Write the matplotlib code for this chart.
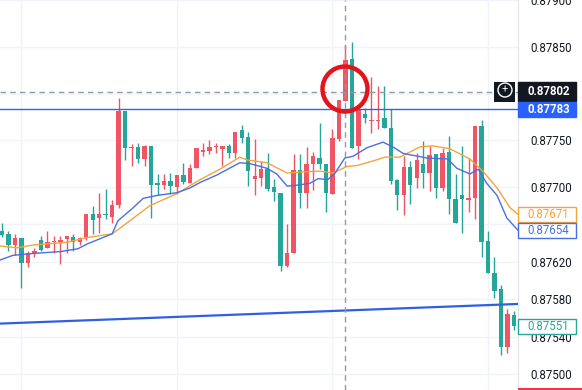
import matplotlib
matplotlib.use("Agg")
import matplotlib.pyplot as plt
from matplotlib.patches import Rectangle, Circle
from matplotlib.transforms import blended_transform_factory

plt.rcParams['font.family'] = ['Roboto', 'DejaVu Sans']

# OHLC (80 bars, left to right)
opens = [0.87653, 0.87650, 0.87638, 0.87645, 0.87619, 0.87629, 0.87643, 0.87635, 0.87641, 0.87641,
         0.87644, 0.87647, 0.87641, 0.87645, 0.87671, 0.87667, 0.87671, 0.87668, 0.87681, 0.87781,
         0.87742, 0.87743, 0.87730, 0.87744, 0.87704, 0.87702, 0.87706, 0.87700, 0.87713, 0.87704,
         0.87720, 0.87738, 0.87739, 0.87743, 0.87741, 0.87744, 0.87736, 0.87761, 0.87753, 0.87709,
         0.87710, 0.87719, 0.87700, 0.87694, 0.87616, 0.87629, 0.87718, 0.87694, 0.87725, 0.87731,
         0.87725, 0.87693, 0.87751, 0.87792, 0.87837, 0.87744, 0.87778, 0.87771, 0.87771, 0.87774,
         0.87763, 0.87708, 0.87692, 0.87721, 0.87710, 0.87725, 0.87715, 0.87735, 0.87699, 0.87738,
         0.87687, 0.87692, 0.87686, 0.87688, 0.87765, 0.87642, 0.87608, 0.87591, 0.87529, 0.87563]
highs = [0.87662, 0.87653, 0.87650, 0.87645, 0.87632, 0.87635, 0.87648, 0.87653, 0.87648, 0.87648,
         0.87648, 0.87650, 0.87647, 0.87671, 0.87680, 0.87694, 0.87698, 0.87686, 0.87795, 0.87781,
         0.87746, 0.87747, 0.87745, 0.87744, 0.87714, 0.87714, 0.87715, 0.87713, 0.87726, 0.87725,
         0.87742, 0.87747, 0.87750, 0.87747, 0.87744, 0.87746, 0.87759, 0.87766, 0.87759, 0.87751,
         0.87728, 0.87736, 0.87709, 0.87694, 0.87660, 0.87735, 0.87735, 0.87743, 0.87737, 0.87768,
         0.87725, 0.87762, 0.87793, 0.87852, 0.87855, 0.87783, 0.87784, 0.87818, 0.87808, 0.87808,
         0.87783, 0.87709, 0.87733, 0.87728, 0.87736, 0.87749, 0.87744, 0.87735, 0.87742, 0.87755,
         0.87714, 0.87744, 0.87731, 0.87765, 0.87772, 0.87653, 0.87625, 0.87595, 0.87570, 0.87568]
lows = [0.87647, 0.87632, 0.87627, 0.87592, 0.87615, 0.87625, 0.87632, 0.87635, 0.87630, 0.87618,
        0.87630, 0.87632, 0.87638, 0.87643, 0.87650, 0.87651, 0.87666, 0.87662, 0.87678, 0.87729,
        0.87723, 0.87726, 0.87722, 0.87667, 0.87692, 0.87698, 0.87693, 0.87693, 0.87703, 0.87704,
        0.87720, 0.87733, 0.87735, 0.87736, 0.87722, 0.87731, 0.87731, 0.87747, 0.87701, 0.87691,
        0.87701, 0.87696, 0.87685, 0.87610, 0.87614, 0.87629, 0.87678, 0.87678, 0.87697, 0.87719,
        0.87673, 0.87693, 0.87749, 0.87792, 0.87742, 0.87730, 0.87768, 0.87758, 0.87762, 0.87763,
        0.87703, 0.87675, 0.87670, 0.87682, 0.87699, 0.87699, 0.87696, 0.87688, 0.87696, 0.87671,
        0.87662, 0.87651, 0.87673, 0.87666, 0.87625, 0.87608, 0.87581, 0.87520, 0.87523, 0.87547]
closes = [0.87649, 0.87638, 0.87645, 0.87619, 0.87630, 0.87632, 0.87633, 0.87641, 0.87642, 0.87643,
          0.87648, 0.87641, 0.87646, 0.87671, 0.87665, 0.87671, 0.87670, 0.87681, 0.87781, 0.87742,
          0.87743, 0.87730, 0.87744, 0.87702, 0.87702, 0.87706, 0.87701, 0.87713, 0.87705, 0.87720,
          0.87742, 0.87739, 0.87743, 0.87744, 0.87744, 0.87736, 0.87759, 0.87752, 0.87717, 0.87712,
          0.87719, 0.87698, 0.87695, 0.87616, 0.87629, 0.87718, 0.87694, 0.87725, 0.87733, 0.87725,
          0.87694, 0.87752, 0.87793, 0.87836, 0.87742, 0.87783, 0.87774, 0.87772, 0.87772, 0.87763,
          0.87706, 0.87692, 0.87721, 0.87702, 0.87729, 0.87715, 0.87734, 0.87699, 0.87736, 0.87687,
          0.87662, 0.87687, 0.87688, 0.87765, 0.87641, 0.87608, 0.87589, 0.87529, 0.87564, 0.87551]

# moving averages, traced (bar position, price)
fast_x = [-0.3, 1.7, 4.8, 9.0, 11.7, 13.1, 17.0, 17.9, 20.1, 21.8, 23.9, 27.0, 29.0, 30.6, 33.2,
          36.7, 38.3, 40.9, 42.4, 44.0, 45.5, 47.5, 48.8, 50.3, 51.4, 52.9, 54.2, 56.3, 58.8, 60.3,
          61.9, 65.6, 68.8, 70.2, 72.2, 73.5, 74.8, 76.4, 77.9, 79.6]
fast_y = [0.87622, 0.87627, 0.87629, 0.87631, 0.87634, 0.87639, 0.87650, 0.87664, 0.87677, 0.87688,
          0.87691, 0.87694, 0.87699, 0.87705, 0.87713, 0.87726, 0.87725, 0.87720, 0.87714, 0.87701,
          0.87702, 0.87704, 0.87709, 0.87708, 0.87715, 0.87731, 0.87733, 0.87742, 0.87748, 0.87743,
          0.87736, 0.87731, 0.87730, 0.87720, 0.87714, 0.87719, 0.87704, 0.87691, 0.87667, 0.87654]
slow_x = [-0.3, 2.3, 4.8, 10.0, 13.1, 17.0, 18.2, 22.8, 27.0, 30.6, 33.6, 36.7, 37.8, 40.9, 44.0,
          46.0, 49.1, 51.1, 53.2, 54.8, 57.3, 59.1, 61.4, 64.5, 66.5, 69.1, 72.2, 74.2, 76.4, 78.4, 79.6]
slow_y = [0.87637, 0.87635, 0.87638, 0.87641, 0.87646, 0.87650, 0.87656, 0.87680, 0.87693, 0.87708,
          0.87719, 0.87732, 0.87729, 0.87726, 0.87715, 0.87716, 0.87717, 0.87715, 0.87722, 0.87723,
          0.87728, 0.87732, 0.87732, 0.87743, 0.87744, 0.87741, 0.87730, 0.87717, 0.87699, 0.87678, 0.87671]

# drawings
trend_x = [-0.3, 79.6]
trend_y = [0.87554, 0.87575]
hline_price = 0.87783
cross_bar = 52.9
cross_price = 0.87802
fast_last = 0.87654
slow_last = 0.87671

tick_prices = [0.87900, 0.87850, 0.87750, 0.87700, 0.87620, 0.87580, 0.87540, 0.87500]
grid_prices = [0.87900, 0.87850, 0.87800, 0.87750, 0.87700, 0.87660, 0.87620, 0.87580, 0.87540, 0.87500]
grid_bars = [3, 27, 51, 75]

up_col = '#f05565'
down_col = '#26a69a'
ema_blue = '#4a6fe0'
ema_orange = '#f5a43a'
line_blue = '#2962ff'
text_col = '#131722'

fig = plt.figure(figsize=(5.82, 3.90), dpi=100)
ax = fig.add_axes([0, 0, 518 / 582, 1])
ax.set_xlim(-0.31, 79.63)
ax.set_ylim(0.874830, 0.878979)

for g in grid_prices:
    ax.axhline(g, color='#f0f3fa', lw=1, zorder=0)
for g in grid_bars:
    ax.axvline(g, color='#f0f3fa', lw=1, zorder=0)

# candles
for i in range(len(opens)):
    col = up_col if closes[i] >= opens[i] else down_col
    ax.vlines(i, lows[i], highs[i], color=col, lw=1, zorder=3)
    body = max(abs(closes[i] - opens[i]), 0.000012)
    ax.bar(i, body, bottom=min(opens[i], closes[i]), width=0.68, color=col, lw=0, zorder=3)

ax.plot(slow_x, slow_y, color=ema_orange, lw=1, zorder=4)
ax.plot(fast_x, fast_y, color=ema_blue, lw=1, zorder=4)
ax.plot(trend_x, trend_y, color='#2f5fe3', lw=1.6, zorder=4)
ax.axhline(hline_price, color=line_blue, lw=1, zorder=4)

# crosshair
ax.axvline(cross_bar, color='#9598a1', lw=1, ls=(0, (4, 3)), zorder=5)
ax.axhline(cross_price, color='#9598a1', lw=1, ls=(0, (4, 3)), zorder=5)

# price axis on the right
ax.yaxis.tick_right()
ax.set_yticks(tick_prices)
ax.set_yticklabels(['%.5f' % p for p in tick_prices])
ax.tick_params(axis='y', length=0, pad=9, labelsize=8.3, labelcolor=text_col)
ax.set_xticks([])
for s in ['top', 'left', 'bottom']:
    ax.spines[s].set_visible(False)
ax.spines['right'].set_color('#e0e3eb')

tr = blended_transform_factory(ax.transAxes, ax.transData)
px = 1 / 94000.0
x0, x1 = 1.0, 576 / 518


def price_label(price, text, face, edge, fg, bold=False, h=15):
    ax.add_patch(Rectangle((x0, price - h / 2 * px), x1 - x0, h * px, transform=tr,
                           facecolor=face, edgecolor=edge, lw=1, clip_on=False, zorder=10))
    ax.text(527 / 518, price, text, transform=tr, color=fg, fontsize=8.3, va='center',
            ha='left', fontweight='bold' if bold else 'normal', clip_on=False, zorder=11)


price_label(cross_price, '%.5f' % cross_price, text_col, text_col, 'white', bold=True, h=19)
price_label(hline_price, '%.5f' % hline_price, line_blue, line_blue, 'white', bold=True, h=15)
price_label(slow_last, '%.5f' % slow_last, 'white', ema_orange, ema_orange)
price_label(fast_last, '%.5f' % fast_last, 'white', ema_blue, ema_blue)
price_label(closes[-1], '%.5f' % closes[-1], 'white', down_col, down_col)

# red label peeking at the bottom edge
ax.add_patch(Rectangle((x0, 0.87483), 582 / 518 - x0, 2 * px, transform=tr,
                       facecolor='#f23645', lw=0, clip_on=False, zorder=10))

# plus button beside the crosshair label
ax.add_patch(Rectangle((494 / 518, cross_price - 10 * px), 21 / 518, 20 * px, transform=tr,
                       facecolor=text_col, lw=0, clip_on=False, zorder=10))
fig.patches.append(Circle((5.05, 3.00), 0.07, transform=fig.dpi_scale_trans,
                          fill=False, edgecolor='white', lw=1, zorder=12))
fig.text(5.05 / 5.82, 3.00 / 3.90, '+', color='white', fontsize=8, ha='center',
         va='center', zorder=12)

# red circle highlight
fig.patches.append(Circle((3.45, 3.01), 0.225, transform=fig.dpi_scale_trans,
                          fill=False, edgecolor='#e3141c', lw=3.2, zorder=12))

fig.savefig('out.png', dpi=100)
plt.close(fig)
